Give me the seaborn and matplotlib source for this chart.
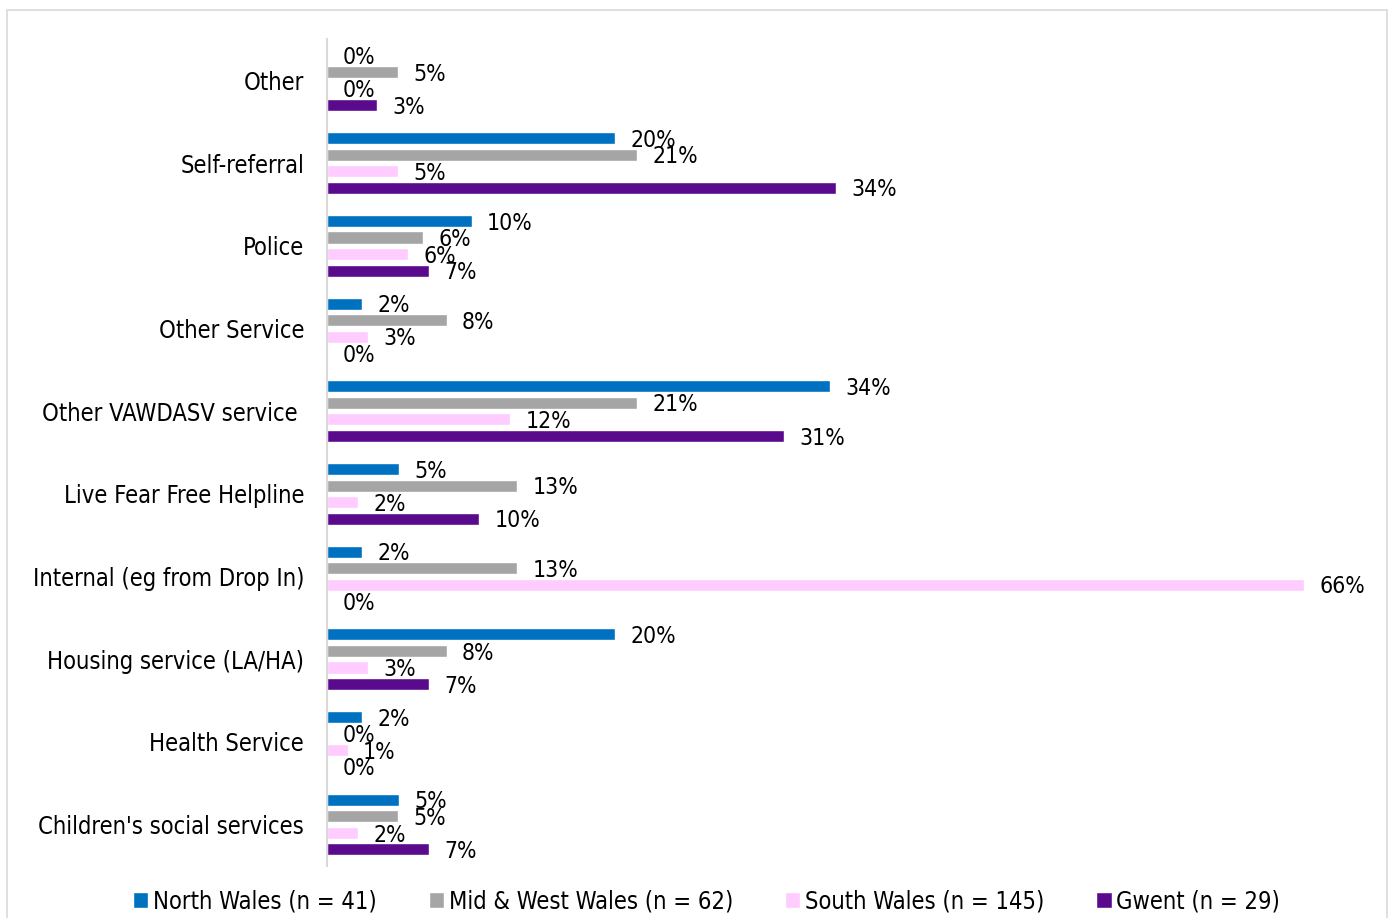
import matplotlib
matplotlib.use("Agg")
import matplotlib.pyplot as plt
from matplotlib.patches import Rectangle
import pandas as pd
import seaborn as sns

# Referral sources, top to bottom
categories = [
    "Other",
    "Self-referral",
    "Police",
    "Other Service",
    "Other VAWDASV service ",
    "Live Fear Free Helpline",
    "Internal (eg from Drop In)",
    "Housing service (LA/HA)",
    "Health Service",
    "Children's social services",
]

series_names = [
    "North Wales (n = 41)",
    "Mid & West Wales (n = 62)",
    "South Wales (n = 145)",
    "Gwent (n = 29)",
]

# Share of referrals (%) per region
north_wales = [0.0, 19.5, 9.8, 2.4, 34.1, 4.9, 2.4, 19.5, 2.4, 4.9]
mid_west_wales = [4.8, 21.0, 6.5, 8.1, 21.0, 12.9, 12.9, 8.1, 0.0, 4.8]
south_wales = [0.0, 4.8, 5.5, 2.8, 12.4, 2.1, 66.2, 2.8, 1.4, 2.1]
gwent = [3.4, 34.5, 6.9, 0.0, 31.0, 10.3, 0.0, 6.9, 0.0, 6.9]

colors = ["#0070C0", "#A5A5A5", "#FFCCFF", "#5A0A8C"]

rows = []
for name, vals in zip(series_names, [north_wales, mid_west_wales, south_wales, gwent]):
    for cat, v in zip(categories, vals):
        rows.append({"Source": cat, "Region": name, "Percent": v})
df = pd.DataFrame(rows)

sns.set_theme(style="white")
plt.rcParams["font.family"] = ["DejaVu Sans"]
plt.rcParams["font.stretch"] = "condensed"
plt.rcParams["text.color"] = "#000000"
FS = 17

fig = plt.figure(figsize=(13.91, 9.18), dpi=100)
ax = fig.add_axes([327 / 1391, 1 - 866 / 918, (1360 - 327) / 1391, (866 - 39) / 918])

sns.barplot(
    data=df, y="Source", x="Percent", hue="Region",
    order=categories, hue_order=series_names, palette=colors,
    orient="h", width=0.8, gap=0.27, saturation=1, ax=ax, errorbar=None,
)

for cont in ax.containers:
    texts = ax.bar_label(cont, fmt=lambda v: f"{v:.0f}%", padding=11,
                         fontsize=16.5, color="#000000")
    for t in texts:
        t.xyann = (t.xyann[0], -1.5)

ax.set_xlim(0, 70)
ax.set_ylim(9.5, -0.5)
ax.set_xlabel("")
ax.set_ylabel("")
ax.set_xticks([])
ax.tick_params(axis="y", length=0, pad=16.5, labelsize=FS, labelcolor="#000000")
for side in ["top", "right", "bottom"]:
    ax.spines[side].set_visible(False)
ax.spines["left"].set_color("#D9D9D9")
ax.spines["left"].set_linewidth(1.5)

handles, labels = ax.get_legend_handles_labels()
ax.get_legend().remove()
fig.legend(
    handles, labels, loc="center", bbox_to_anchor=(0.508, 17 / 918), ncol=4,
    frameon=False, fontsize=FS, handlelength=0.65, handleheight=0.65,
    handletextpad=0.2, columnspacing=2.2, labelcolor="#000000",
)

fig.patches.append(Rectangle(
    (7 / 1391, -0.02), (1387 - 7) / 1391, (918 - 10) / 918 + 0.02,
    transform=fig.transFigure, fill=False, edgecolor="#D9D9D9", linewidth=1.2,
))

fig.savefig("out.png", dpi=100)
